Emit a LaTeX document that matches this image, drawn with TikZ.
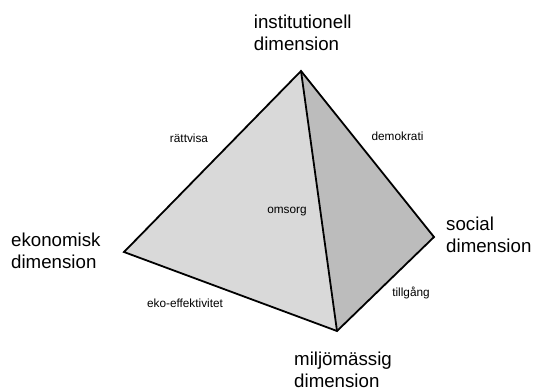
\documentclass[tikz,border=0pt]{standalone}
\usepackage{fontspec}
\setmainfont{Liberation Sans}
\definecolor{leftface}{HTML}{D9D9D9}
\definecolor{rightface}{HTML}{BCBCBC}
\begin{document}
\begin{tikzpicture}[x=1bp,y=-1bp,
  edge/.style={line width=1.8bp, line join=miter},
  dim/.style={font=\fontsize{18.7bp}{22.2bp}\selectfont, align=left, anchor=north west, inner sep=0pt},
  val/.style={font=\fontsize{11.8bp}{14bp}\selectfont, inner sep=0pt}]
\useasboundingbox (0,0) rectangle (536,390);
\coordinate (T) at (301,71);
\coordinate (L) at (124,252);
\coordinate (B) at (337,331);
\coordinate (R) at (434,237);
\fill[leftface] (T) -- (L) -- (B) -- cycle;
\fill[rightface] (T) -- (B) -- (R) -- cycle;
\draw[edge] (T) -- (L) -- (B) -- (R) -- cycle;
\draw[edge] (T) -- (B);
\node[dim] (inst) at (253.7,14.3) {institutionell\\dimension};
\node[dim] (eko) at (11,232.3) {ekonomisk\\dimension};
\node[dim] (soc) at (446,216.6) {social\\dimension};
\node[dim] (milj) at (294,351.6) {miljömässig\\dimension};
\node[val] (ratt) at (189,138) {rättvisa};
\node[val] (demo) at (397.5,136) {demokrati};
\node[val] (oms) at (287,212) {omsorg};
\node[val] (ekoeff) at (185,303) {eko-effektivitet};
\node[val] (till) at (411,293) {tillgång};
\end{tikzpicture}
\end{document}
